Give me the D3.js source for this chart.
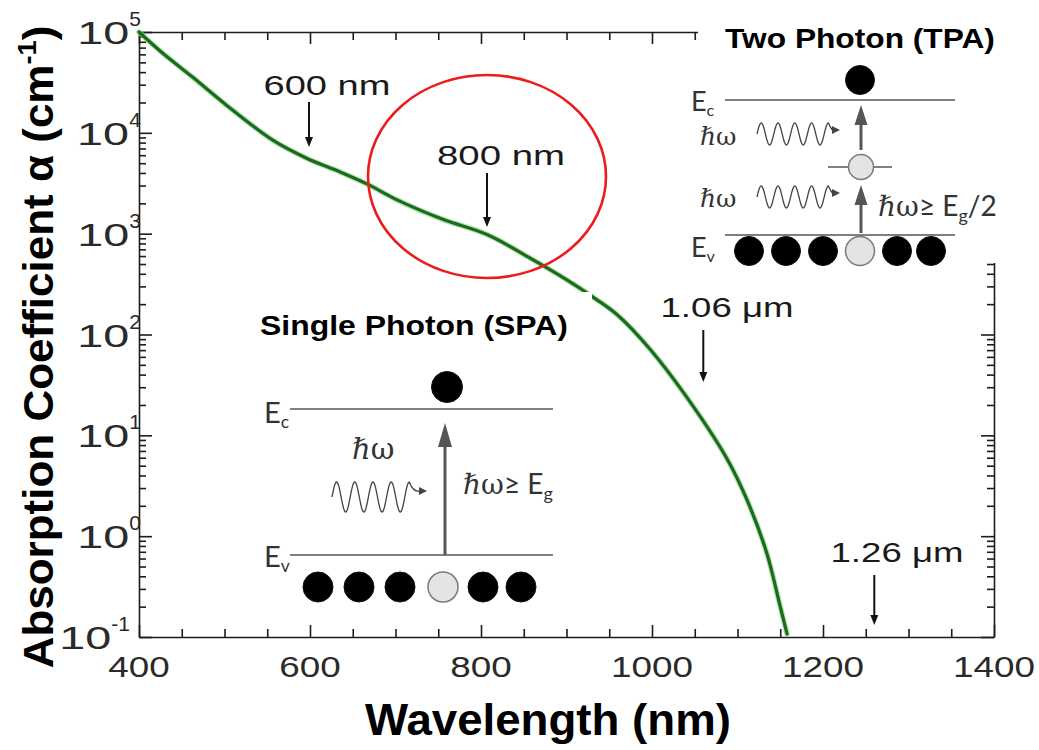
<!DOCTYPE html>
<html>
<head>
<meta charset="utf-8">
<script src="https://cdn.jsdelivr.net/npm/d3@7"></script>
<style>
  body { margin: 0; background: #fff; }
  svg { display: block; }
</style>
</head>
<body>
<svg id="chart" width="1039" height="750"></svg>
<script>
// Absorption spectrum of silicon (cm^-1) versus wavelength (nm)
const wavelengthNm = [400, 425, 463, 503, 557, 596, 635, 667, 705, 756, 807, 861, 900, 931, 959, 998, 1048, 1088, 1111, 1134, 1150, 1158];
const absorptionCm = [100000, 64500, 35500, 18600, 8400, 5600, 4100, 3100, 2100, 1380, 980, 550, 350, 235, 158, 71, 19.5, 5.8, 2.3, 0.69, 0.20, 0.107];

const xTickValues = [400, 600, 800, 1000, 1200, 1400];
const xMinorStep = 50;
const yDecadeExponents = [-1, 0, 1, 2, 3, 4, 5];

// Wavelength markers with arrows
const markerLabels = ["600 nm", "800 nm", "1.06 μm", "1.26 μm"];
const markerWavelengths = [600, 800, 1060, 1260];

const plot = { left: 139, right: 994, top: 32, bottom: 637 };

const svg = d3.select("#chart");
const x = d3.scaleLinear().domain([400, 1400]).range([plot.left, plot.right]);
const y = d3.scaleLog().domain([0.1, 1e5]).range([plot.bottom, plot.top]);

const ink = "#1c1c1c";
const sansFont = "'Liberation Sans', Arial, Helvetica, sans-serif";

// Text helper: draws text then stretches it horizontally to a given width
function fitText(parent, opts) {
  const g = parent.append("g")
    .attr("transform", `translate(${opts.x},${opts.y}) rotate(${opts.rotate || 0})`);
  const t = g.append("text")
    .attr("text-anchor", opts.anchor || "middle")
    .attr("font-family", opts.family || sansFont)
    .attr("font-size", opts.size)
    .attr("font-weight", opts.weight || "normal")
    .attr("fill", opts.fill || ink);
  opts.build(t);
  const w = t.node().getBBox().width;
  if (opts.width) t.attr("transform", `scale(${opts.width / w},1)`);
  return t;
}

// ---------- axes ----------
const xMajors = xTickValues;
const xMinors = d3.range(400, 1401, xMinorStep).filter(v => !xMajors.includes(v));
const yMajors = yDecadeExponents.map(e => Math.pow(10, e));
const yMinors = [];
yDecadeExponents.slice(0, -1).forEach(e => {
  for (let m = 2; m <= 9; m++) yMinors.push(m * Math.pow(10, e));
});

function drawAxis(axisFn, scale, values, size, transform) {
  const g = svg.append("g").attr("transform", transform)
    .call(axisFn(scale).tickValues(values).tickSize(size).tickSizeOuter(0).tickFormat(""));
  g.selectAll("path,line").attr("stroke", ink).attr("stroke-width", 1.6);
  return g;
}
drawAxis(d3.axisBottom, x, xMajors, -12, `translate(0,${plot.bottom})`);
drawAxis(d3.axisBottom, x, xMinors, -8, `translate(0,${plot.bottom})`).select(".domain").remove();
drawAxis(d3.axisTop, x, xMajors, -12, `translate(0,${plot.top})`);
drawAxis(d3.axisTop, x, xMinors, -8, `translate(0,${plot.top})`).select(".domain").remove();
drawAxis(d3.axisLeft, y, yMajors, -13, `translate(${plot.left},0)`);
drawAxis(d3.axisLeft, y, yMinors, -7, `translate(${plot.left},0)`).select(".domain").remove();
drawAxis(d3.axisRight, y, yMajors, -13, `translate(${plot.right},0)`);
drawAxis(d3.axisRight, y, yMinors, -7, `translate(${plot.right},0)`).select(".domain").remove();

// x tick labels
xTickValues.forEach(v => {
  const s = String(v);
  fitText(svg, {
    x: x(v), y: 677, size: 29, width: s.length * 20.5, fill: "#2a2a2a",
    build: t => t.text(s)
  });
});

// y tick labels: "10" with superscript exponent
yDecadeExponents.forEach(e => {
  const ty = y(Math.pow(10, e));
  const expStr = e < 0 ? "-" + Math.abs(e) : String(e);
  const expRight = e < 0 ? 130 : 141;
  const expT = svg.append("text")
    .attr("x", expRight).attr("y", ty - 6)
    .attr("text-anchor", "end")
    .attr("font-family", sansFont).attr("font-size", 21)
    .attr("fill", "#2a2a2a").text(expStr);
  const ew = expT.node().getBBox().width;
  fitText(svg, {
    x: expRight - ew, y: ty + 12, size: 31, width: 52, anchor: "end", fill: "#2a2a2a",
    build: t => t.text("10")
  });
});

// Axis titles
fitText(svg, {
  x: 548, y: 735, size: 44, weight: "bold", width: 366, fill: "#000",
  build: t => t.text("Wavelength (nm)")
});
fitText(svg, {
  x: 53, y: 347, rotate: -90, size: 42, weight: "bold", width: 643, fill: "#000",
  build: t => {
    t.append("tspan").text("Absorption Coefficient α (cm");
    t.append("tspan").attr("font-size", 26).attr("dy", -17).text("-1");
    t.append("tspan").attr("dy", 17).text(")");
  }
});

// ---------- absorption curve ----------
const series = wavelengthNm.map((w, i) => [w, absorptionCm[i]]);
const line = d3.line().x(d => x(d[0])).y(d => y(d[1])).curve(d3.curveCatmullRom.alpha(0.5));
svg.append("path").datum(series).attr("d", line)
  .attr("fill", "none").attr("stroke", "#8fd88f").attr("stroke-width", 5.5)
  .attr("stroke-linecap", "round").attr("opacity", 0.7);
svg.append("path").datum(series).attr("d", line)
  .attr("fill", "none").attr("stroke", "#1d6a1d").attr("stroke-width", 3.2)
  .attr("stroke-linecap", "round");

// ---------- wavelength markers ----------
const markerLayout = [
  { dx: -1, labelX: 327, labelY: 95, labelW: 127, y0: 102, y1: 147 },
  { dx: 6,  labelX: 501, labelY: 165, labelW: 128, y0: 173, y1: 227 },
  { dx: 0,  labelX: 727, labelY: 317, labelW: 133, y0: 330, y1: 382 },
  { dx: 0,  labelX: 897, labelY: 562, labelW: 133, y0: 575, y1: 625 }
];
markerLabels.forEach((lab, i) => {
  const L = markerLayout[i];
  const ax = x(markerWavelengths[i]) + L.dx;
  fitText(svg, {
    x: L.labelX, y: L.labelY, size: 28, width: L.labelW, fill: "#1a1a1a",
    build: t => t.text(lab)
  });
  svg.append("line").attr("x1", ax).attr("x2", ax).attr("y1", L.y0).attr("y2", L.y1 - 8)
    .attr("stroke", "#111").attr("stroke-width", 2);
  svg.append("path")
    .attr("d", `M${ax - 4},${L.y1 - 10} L${ax + 4},${L.y1 - 10} L${ax},${L.y1} Z`)
    .attr("fill", "#111");
});

// Red highlight ellipse around the 800 nm region
svg.append("ellipse")
  .attr("cx", 487).attr("cy", 176.5).attr("rx", 119).attr("ry", 101.5)
  .attr("fill", "none").attr("stroke", "#ec1c1c").attr("stroke-width", 2.6);

// ---------- inset panels ----------
svg.append("rect").attr("x", 250).attr("y", 292).attr("width", 342).attr("height", 318).attr("fill", "#fff");
svg.append("rect").attr("x", 698).attr("y", 0).attr("width", 341).attr("height", 263).attr("fill", "#fff");

const diagInk = "#555";
const labelInk = "#333";
const calFont = "Lato, 'Open Sans', 'DejaVu Sans', sans-serif";
const serifFont = "'DejaVu Serif', 'Liberation Serif', serif";

function level(x0, x1, yy) {
  svg.append("line").attr("x1", x0).attr("x2", x1).attr("y1", yy).attr("y2", yy)
    .attr("stroke", diagInk).attr("stroke-width", 1.6);
}
function levelLabel(xx, yy, sub, size) {
  const t = svg.append("text").attr("x", xx).attr("y", yy)
    .attr("font-family", calFont).attr("font-size", size).attr("fill", labelInk);
  t.append("tspan").text("E");
  t.append("tspan").attr("font-size", size * 0.6).attr("dy", 5).text(sub);
}
function electron(cx, cy, r, hole) {
  svg.append("circle").attr("cx", cx).attr("cy", cy).attr("r", r)
    .attr("fill", hole ? "#e4e4e4" : "#000")
    .attr("stroke", hole ? "#7a7a7a" : "#111").attr("stroke-width", hole ? 1.5 : 1);
}
function upArrow(ax, yBottom, yTip, head, half) {
  svg.append("line").attr("x1", ax).attr("x2", ax).attr("y1", yBottom).attr("y2", yTip + head - 1)
    .attr("stroke", diagInk).attr("stroke-width", 3);
  svg.append("path").attr("d", `M${ax - half},${yTip + head} L${ax + half},${yTip + head} L${ax},${yTip} Z`)
    .attr("fill", diagInk);
}
// Photon symbol: wiggle followed by a small arrow
function photon(x0, cy, amp, period, cycles, tipX, tipY) {
  const n = Math.round(cycles * 24);
  const pts = d3.range(n + 1).map(i => {
    const px = x0 + (i / 24) * period;
    return [px, cy - amp * Math.sin(2 * Math.PI * i / 24)];
  });
  const last = pts[pts.length - 1];
  let d = d3.line().curve(d3.curveCardinal)(pts);
  d += ` Q${last[0] + 4},${tipY + 2} ${tipX - 6},${tipY}`;
  svg.append("path").attr("d", d).attr("fill", "none").attr("stroke", "#444").attr("stroke-width", 1.3);
  svg.append("path").attr("d", `M${tipX - 8},${tipY - 4} L${tipX},${tipY} L${tipX - 8},${tipY + 4} Z`)
    .attr("fill", "#444");
}
function hbarOmega(xx, yy, size, extra) {
  const t = svg.append("text").attr("x", xx).attr("y", yy)
    .attr("fill", labelInk).attr("font-size", size);
  t.append("tspan").attr("font-family", serifFont).text("ℏω");
  if (extra) extra(t);
  return t;
}

// Single photon panel
fitText(svg, {
  x: 414, y: 335, size: 28, weight: "bold", width: 308, fill: "#000",
  build: t => t.text("Single Photon (SPA)")
});
level(290, 553, 409);
level(290, 553, 555);
levelLabel(264, 423, "c", 29);
levelLabel(264, 567, "v", 29);
electron(447, 387, 15.5, false);
upArrow(445, 555, 423, 24, 7);
hbarOmega(352, 459, 29);
photon(332, 497, 15, 18.2, 4.25, 427, 491);
hbarOmega(463, 494, 28, t => {
  t.append("tspan").attr("font-family", calFont).text("≥ E");
  t.append("tspan").attr("font-family", calFont).attr("font-size", 18).attr("dy", 6).text("g");
});
[318, 359, 400, 443, 483, 521].forEach((cx, i) => electron(cx, 587, 15, i === 3));

// Two photon panel
fitText(svg, {
  x: 860, y: 48, size: 28, weight: "bold", width: 270, fill: "#000",
  build: t => t.text("Two Photon (TPA)")
});
level(725, 955, 100);
level(725, 955, 235);
levelLabel(691, 111, "c", 27);
levelLabel(691, 257, "v", 27);
electron(860, 80, 14.5, false);
upArrow(861, 150, 105, 20, 6.5);
level(828, 892, 167);
electron(861, 167, 12.5, true);
upArrow(861, 233, 185, 20, 6.5);
hbarOmega(700, 145, 25);
photon(757, 134, 11, 16.8, 4.25, 840, 130);
hbarOmega(700, 207, 25);
photon(757, 197, 11, 16.8, 4.25, 840, 193);
hbarOmega(878, 216, 28, t => {
  t.append("tspan").attr("font-family", calFont).text("≥ E");
  t.append("tspan").attr("font-family", calFont).attr("font-size", 18).attr("dy", 6).text("g");
  t.append("tspan").attr("font-family", calFont).attr("dy", -6).text("/2");
});
[749, 786, 823, 860, 897, 931].forEach((cx, i) => electron(cx, 251, 14.5, i === 3));
</script>
</body>
</html>
